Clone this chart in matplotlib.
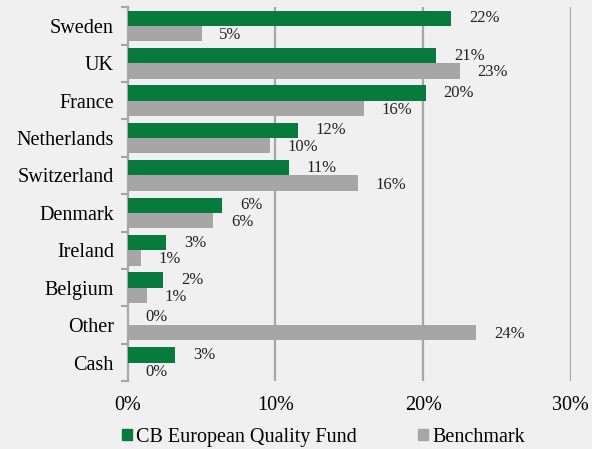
import matplotlib.pyplot as plt
import numpy as np

countries = ['Sweden', 'UK', 'France', 'Netherlands', 'Switzerland', 'Denmark',
             'Ireland', 'Belgium', 'Other', 'Cash']
fund = [21.9, 20.9, 20.2, 11.5, 10.9, 6.4, 2.6, 2.4, 0.0, 3.2]
bench = [5.0, 22.5, 16.0, 9.6, 15.6, 5.8, 0.9, 1.3, 23.6, 0.0]
fund_labels = ['22%', '21%', '20%', '12%', '11%', '6%', '3%', '2%', '0%', '3%']
bench_labels = ['5%', '23%', '16%', '10%', '16%', '6%', '1%', '1%', '24%', '0%']

bg = '#f0f0f0'
green = '#077a3d'
grey = '#a6a6a6'

plt.rcParams['font.family'] = ['Liberation Serif', 'DejaVu Serif']

fig = plt.figure(figsize=[5.92, 4.49], dpi=100, facecolor=bg)
ax = fig.add_axes([0.216, 0.151, 0.748, 0.833], facecolor=bg)

y = np.arange(len(countries))
h = 0.41
ax.barh(y - h / 2, fund, height=h, color=green, zorder=3)
ax.barh(y + h / 2, bench, height=h, color=grey, zorder=3)

for i in range(len(countries)):
    ax.text(fund[i] + 1.2, y[i] - h / 2, fund_labels[i], va='center', ha='left',
            fontsize=12, color='#222222', zorder=4)
    ax.text(bench[i] + 1.2, y[i] + h / 2 + 0.04, bench_labels[i], va='center', ha='left',
            fontsize=12, color='#222222', zorder=4)

ax.set_xlim(0, 30)
ax.set_ylim(len(countries) - 0.5, -0.5)
ax.set_xticks([0, 10, 20, 30])
ax.set_xticklabels(['0%', '10%', '20%', '30%'], fontsize=14.5)
ax.set_yticks(y)
ax.set_yticklabels(countries, fontsize=14.5)
ax.set_yticks(np.arange(-0.5, len(countries), 1), minor=True)
ax.tick_params(axis='y', which='major', length=0, pad=10)
ax.tick_params(axis='y', which='minor', length=5, width=1.5, color=grey)
ax.tick_params(axis='x', length=0, pad=11)

for x in [10, 20, 30]:
    ax.axvline(x, color=grey, linewidth=1.6, zorder=1)

for s in ['top', 'right', 'bottom']:
    ax.spines[s].set_visible(False)
ax.spines['left'].set_color(grey)
ax.spines['left'].set_linewidth(1.6)

handles = [plt.Rectangle((0, 0), 1, 1, color=green), plt.Rectangle((0, 0), 1, 1, color=grey)]
fig.legend(handles, ['CB European Quality Fund', 'Benchmark'], loc='lower center',
           bbox_to_anchor=(0.546, -0.035), ncol=2, frameon=False, fontsize=14.5,
           handlelength=0.5, handleheight=0.5, handletextpad=0.2, columnspacing=3.05)

fig.savefig('out.png', facecolor=bg)
